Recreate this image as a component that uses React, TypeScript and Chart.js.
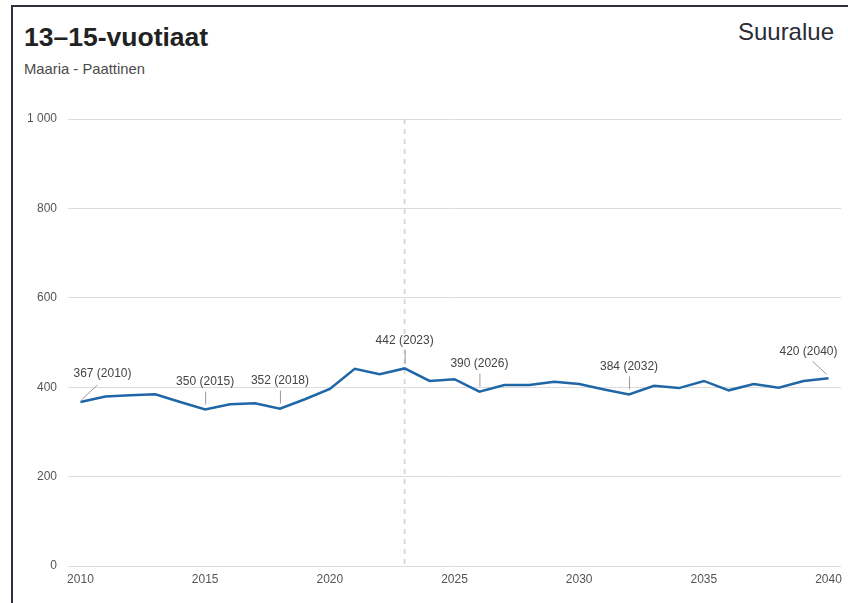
import React, { useEffect, useRef } from "react";
import { Chart, registerables } from "chart.js";

Chart.register(...registerables);

const title = "13–15-vuotiaat";
const subtitle = "Maaria - Paattinen";
const regionLabel = "Suuralue";

const years = [
  2010, 2011, 2012, 2013, 2014, 2015, 2016, 2017, 2018, 2019, 2020,
  2021, 2022, 2023, 2024, 2025, 2026, 2027, 2028, 2029, 2030,
  2031, 2032, 2033, 2034, 2035, 2036, 2037, 2038, 2039, 2040,
];
const values = [
  367, 379, 382, 384, 367, 350, 362, 364, 352, 373, 396,
  441, 429, 442, 414, 418, 390, 405, 405, 412, 407,
  395, 384, 403, 398, 414, 393, 407, 399, 414, 420,
];
const xTickYears = [2010, 2015, 2020, 2025, 2030, 2035, 2040];
const yTickValues = [0, 200, 400, 600, 800, 1000];
const labeledYears = [2010, 2015, 2018, 2023, 2026, 2032, 2040];
const currentYear = 2023;

const FONT = "Arial, 'Liberation Sans', Helvetica, sans-serif";

function fmt(v: number): string {
  return String(v).replace(/\B(?=(\d{3})+(?!\d))/g, " ");
}

const annotationPlugin = {
  id: "annotations",
  beforeDatasetsDraw(chart: any) {
    const { ctx, chartArea, scales } = chart;
    const x = scales.x.getPixelForValue(currentYear);
    ctx.save();
    ctx.strokeStyle = "#d9d9d9";
    ctx.lineWidth = 2;
    ctx.setLineDash([5, 5]);
    ctx.beginPath();
    ctx.moveTo(x, chartArea.top);
    ctx.lineTo(x, chartArea.bottom);
    ctx.stroke();
    ctx.restore();
  },
  afterDatasetsDraw(chart: any) {
    const { ctx, scales } = chart;
    ctx.save();
    ctx.font = `12px ${FONT}`;
    ctx.fillStyle = "#444444";
    ctx.textBaseline = "middle";
    ctx.strokeStyle = "#9a9a9a";
    ctx.lineWidth = 1;
    labeledYears.forEach((yr) => {
      const i = years.indexOf(yr);
      const v = values[i];
      const px = scales.x.getPixelForValue(yr);
      const py = scales.y.getPixelForValue(v);
      const text = `${v} (${yr})`;
      ctx.beginPath();
      if (i === 0) {
        ctx.moveTo(px + 1, py - 2);
        ctx.lineTo(px + 17, py - 17);
        ctx.stroke();
        ctx.textAlign = "left";
        ctx.fillText(text, px - 7, py - 28);
      } else if (i === years.length - 1) {
        ctx.moveTo(px - 2, py - 4);
        ctx.lineTo(px - 16, py - 17);
        ctx.stroke();
        ctx.textAlign = "right";
        ctx.fillText(text, px + 9, py - 27);
      } else {
        ctx.moveTo(px + 0.5, py - 5);
        ctx.lineTo(px + 0.5, py - 18);
        ctx.stroke();
        ctx.textAlign = "center";
        ctx.fillText(text, px, py - 27.5);
      }
    });
    ctx.restore();
  },
};

export default function App() {
  const canvasRef = useRef<HTMLCanvasElement | null>(null);

  useEffect(() => {
    if (!canvasRef.current) return;
    const chart = new Chart(canvasRef.current, {
      type: "line",
      data: {
        datasets: [
          {
            data: years.map((y, i) => ({ x: y, y: values[i] })),
            borderColor: "#1f66a6",
            borderWidth: 2.5,
            pointRadius: 0,
            pointHoverRadius: 0,
            tension: 0,
            fill: false,
          },
        ],
      },
      options: {
        animation: false,
        responsive: false,
        maintainAspectRatio: false,
        layout: { padding: { top: 19, right: 7, left: 0, bottom: 0 } },
        plugins: {
          legend: { display: false },
          tooltip: { enabled: false },
          title: { display: false },
        },
        scales: {
          x: {
            type: "linear",
            min: years[0] - 0.5,
            max: years[years.length - 1] + 0.5,
            afterBuildTicks: (scale: any) => {
              scale.ticks = xTickYears.map((v) => ({ value: v }));
            },
            afterFit: (scale: any) => {
              scale.height = 37;
            },
            grid: { display: false, drawTicks: false },
            border: { display: false },
            ticks: {
              autoSkip: false,
              maxRotation: 0,
              padding: 6,
              color: "#555555",
              font: { family: FONT, size: 12 },
              callback: (v: any) => String(v),
            },
          },
          y: {
            type: "linear",
            min: 0,
            max: 1000,
            afterBuildTicks: (scale: any) => {
              scale.ticks = yTickValues.map((v) => ({ value: v }));
            },
            afterFit: (scale: any) => {
              scale.width = 68;
            },
            grid: { color: "#dcdcdc", lineWidth: 1, drawTicks: false },
            border: { display: false },
            ticks: {
              padding: 11,
              color: "#555555",
              font: { family: FONT, size: 12 },
              callback: (v: any) => fmt(Number(v)),
            },
          },
        },
      },
      plugins: [annotationPlugin],
    });
    return () => chart.destroy();
  }, []);

  return (
    <div
      style={{
        position: "fixed",
        left: 0,
        top: 0,
        width: 848,
        height: 603,
        overflow: "hidden",
        background: "#ffffff",
        fontFamily: FONT,
      }}
    >
      <div
        style={{
          position: "absolute",
          left: 11,
          top: 5,
          width: 900,
          height: 700,
          borderTop: "2px solid #2f3040",
          borderLeft: "2px solid #2f3040",
          boxSizing: "border-box",
        }}
      />
      <div
        style={{
          position: "absolute",
          left: 24,
          top: 24,
          fontSize: 26.5,
          lineHeight: "26px",
          fontWeight: "bold",
          color: "#222222",
          whiteSpace: "nowrap",
        }}
      >
        {title}
      </div>
      <div
        style={{
          position: "absolute",
          left: 24,
          top: 62,
          fontSize: 14.8,
          lineHeight: "15px",
          color: "#4a4a4a",
          whiteSpace: "nowrap",
        }}
      >
        {subtitle}
      </div>
      <div
        style={{
          position: "absolute",
          right: 14,
          top: 20,
          fontSize: 24,
          lineHeight: "24px",
          color: "#2a2b35",
          whiteSpace: "nowrap",
        }}
      >
        {regionLabel}
      </div>
      <canvas
        ref={canvasRef}
        width={848}
        height={503}
        style={{ position: "absolute", left: 0, top: 100, width: 848, height: 503 }}
      />
    </div>
  );
}
